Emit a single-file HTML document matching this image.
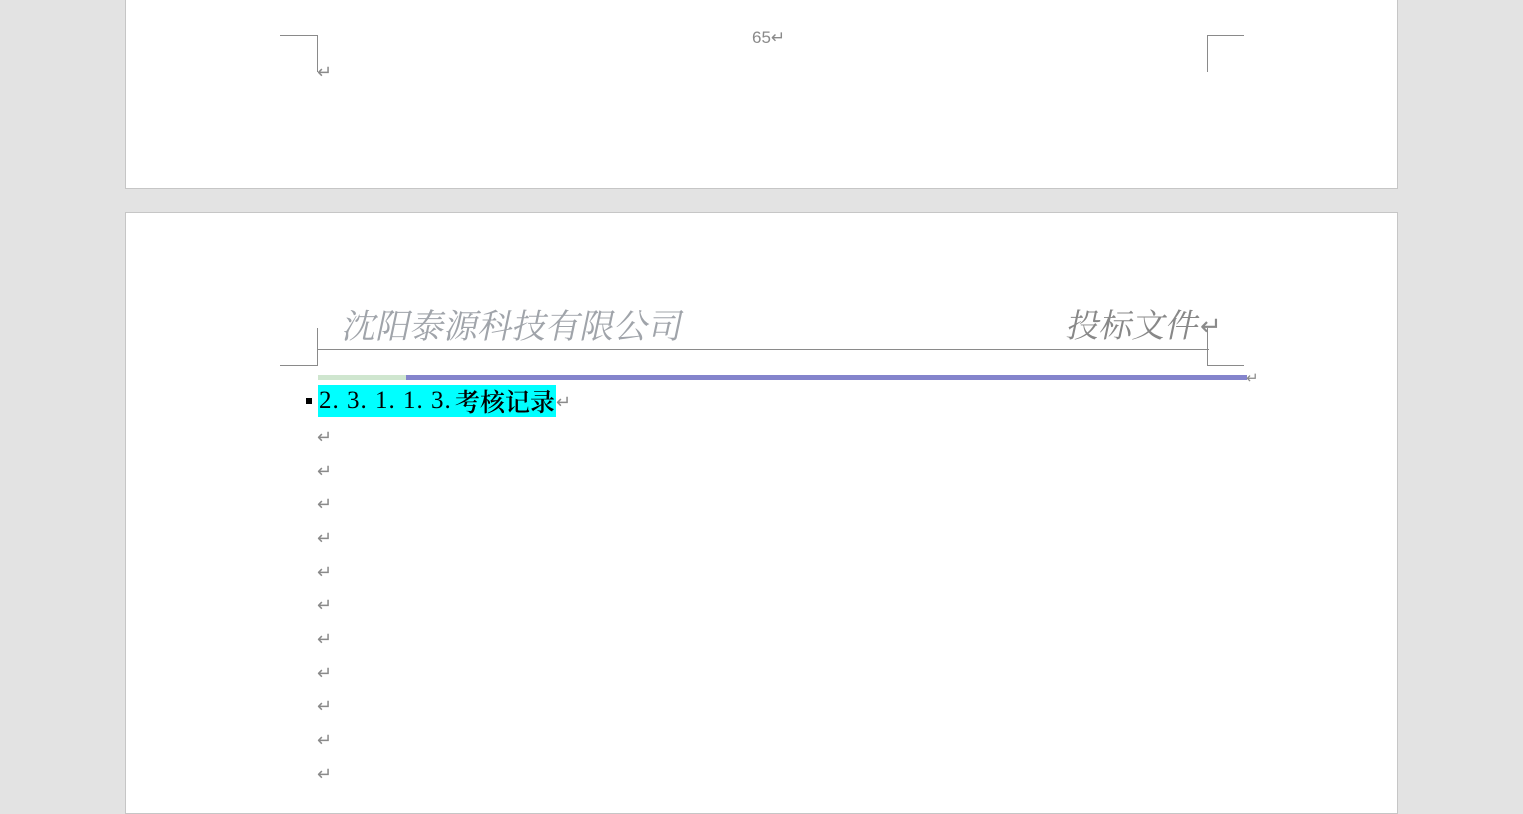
<!DOCTYPE html>
<html><head><meta charset="utf-8"><style>
body{margin:0;width:1523px;height:782px;background:#e3e3e3;position:relative;overflow:hidden;font-family:"Liberation Sans","Noto Sans CJK SC",sans-serif}
.a{position:absolute}
.pg{position:absolute;background:#fff;border:1px solid #c6c6c6;left:125px;width:1271px}
.h{position:absolute;height:1px;background:#8a8a8a}
.v{position:absolute;width:1px;background:#8a8a8a}
.r{position:absolute;color:#8a8a8a;font-size:18px;line-height:18px}
</style></head><body>
<div class="pg" style="top:-1px;height:188px"></div>
<div class="pg" style="top:212px;height:600px"></div>
<div class="a" style="left:752px;top:28px;font-size:17px;color:#8a8a8a">65↵</div>
<div class="h" style="left:280px;top:35px;width:38px"></div><div class="v" style="left:317px;top:35px;height:37px"></div>
<div class="h" style="left:1207px;top:35px;width:37px"></div><div class="v" style="left:1207px;top:35px;height:37px"></div>
<div class="r" style="left:317px;top:63px">↵</div>
<div class="v" style="left:317px;top:328px;height:37px"></div><div class="h" style="left:280px;top:365px;width:38px"></div>
<div class="v" style="left:1207px;top:328px;height:37px"></div><div class="h" style="left:1207px;top:365px;width:37px"></div>
<div class="h" style="left:317px;top:349px;width:892px"></div>
<div class="a" style="left:344px;top:302px;font-size:34px;color:#a0a4aa;font-family:'Noto Serif CJK SC',serif;line-height:44px;transform:skewX(-12deg)">沈阳泰源科技有限公司</div>
<div class="a" style="left:1068px;top:302px;font-size:33px;color:#888;font-family:'Noto Serif CJK SC',serif;line-height:44px;transform:skewX(-12deg)">投标文件</div>
<div class="r" style="left:1200px;top:313px;font-size:26px;line-height:26px">↵</div>
<div class="a" style="left:318px;top:375px;width:88px;height:5px;background:#cfe6cf"></div>
<div class="a" style="left:406px;top:375px;width:841px;height:5px;background:#8484cc"></div>
<div class="r" style="left:1246px;top:370px;font-size:15px">↵</div>
<div class="a" style="left:306px;top:398px;width:6px;height:6px;background:#000"></div>
<div class="a" style="left:318px;top:385px;width:238px;height:32px;background:#00ffff"></div>
<div class="a" style="left:319px;top:385px;font-size:25px;line-height:32px;color:#000;font-family:'Liberation Serif',serif;letter-spacing:1px;white-space:pre">2. 3. 1. 1. 3.</div>
<div class="a" style="left:455px;top:385px;font-size:25px;line-height:32px;color:#000;font-family:'Noto Serif CJK SC',serif;font-weight:600;white-space:nowrap">考核记录</div>
<div class="r" style="left:556px;top:393px">↵</div>
<div class="r" style="left:317px;top:428px">↵</div>
<div class="r" style="left:317px;top:462px">↵</div>
<div class="r" style="left:317px;top:495px">↵</div>
<div class="r" style="left:317px;top:529px">↵</div>
<div class="r" style="left:317px;top:563px">↵</div>
<div class="r" style="left:317px;top:596px">↵</div>
<div class="r" style="left:317px;top:630px">↵</div>
<div class="r" style="left:317px;top:664px">↵</div>
<div class="r" style="left:317px;top:697px">↵</div>
<div class="r" style="left:317px;top:731px">↵</div>
<div class="r" style="left:317px;top:765px">↵</div>
</body></html>
